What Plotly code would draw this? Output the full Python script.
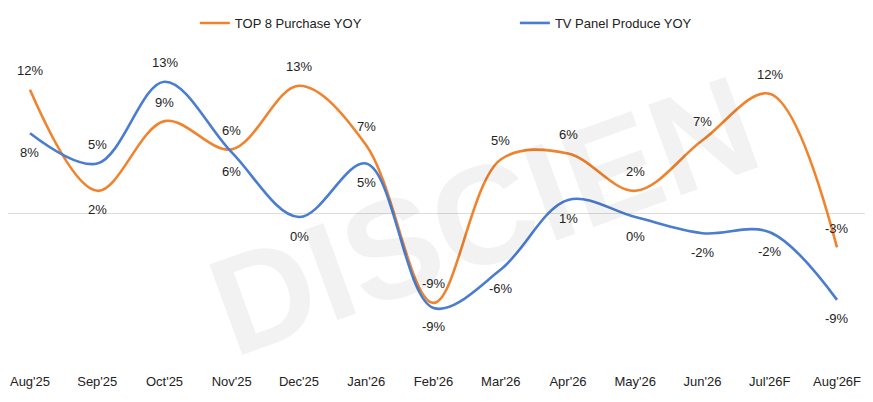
import plotly.graph_objects as go

months = ["Aug'25", "Sep'25", "Oct'25", "Nov'25", "Dec'25", "Jan'26", "Feb'26",
          "Mar'26", "Apr'26", "May'26", "Jun'26", "Jul'26F", "Aug'26F"]
purchase_yoy = [12.2, 2.2, 9.1, 6.3, 12.6, 6.7, -8.9, 5.3, 5.9, 2.2, 7.2, 11.8, -3.4]
panel_yoy = [7.9, 4.9, 13.0, 6.0, -0.4, 4.9, -9.4, -5.6, 1.3, -0.4, -2.0, -1.9, -8.6]

# label side per point: 1 = above, -1 = below
purchase_side = [1, -1, 1, 1, 1, 1, 1, 1, 1, 1, 1, 1, 1]
panel_side = [-1, 1, 1, -1, -1, -1, -1, -1, -1, -1, -1, -1, -1]

ORANGE = '#F0832D'
BLUE = '#4A7DCF'
FONT = 'Liberation Sans, Arial, sans-serif'

fig = go.Figure()
fig.add_trace(go.Scatter(
    x=months, y=purchase_yoy, name='TOP 8 Purchase YOY', mode='lines',
    line=dict(color=ORANGE, width=2.6, shape='spline', smoothing=1.0),
    legend='legend', showlegend=True,
))
fig.add_trace(go.Scatter(
    x=months, y=panel_yoy, name='TV Panel Produce YOY', mode='lines',
    line=dict(color=BLUE, width=2.6, shape='spline', smoothing=1.0),
    legend='legend2', showlegend=True,
))

annotations = []
for vals, sides in ((purchase_yoy, purchase_side), (panel_yoy, panel_side)):
    for m, v, s in zip(months, vals, sides):
        annotations.append(dict(
            x=m, y=v, text=f"{int(round(v)) or 0}%", showarrow=False,
            yshift=19 * s, font=dict(family=FONT, size=13, color='#222'),
        ))

# faint watermark
annotations.append(dict(
    x=0.55, y=0.47, xref='paper', yref='paper', text='<b>DISCIEN</b>',
    showarrow=False, textangle=-20,
    font=dict(family=FONT, size=140, color='rgba(0,0,0,0.05)'),
))

# page body has an 8px margin, so the figure is 8px smaller than the window
fig.update_layout(
    width=865, height=394,
    margin=dict(l=0, r=0, t=32, b=30),
    paper_bgcolor='white', plot_bgcolor='white',
    font=dict(family=FONT, size=13, color='#222'),
    annotations=annotations,
    showlegend=True,
    legend=dict(orientation='h', x=0.216, y=1, xref='container', yref='container',
                xanchor='left', yanchor='top', font=dict(size=13), itemwidth=30,
                bgcolor='rgba(0,0,0,0)'),
    legend2=dict(orientation='h', x=0.586, y=1, xref='container', yref='container',
                 xanchor='left', yanchor='top', font=dict(size=13), itemwidth=30,
                 bgcolor='rgba(0,0,0,0)'),
    xaxis=dict(type='category', range=[-0.327, 12.535], showgrid=False, showline=False,
               ticks='', tickfont=dict(size=13), automargin=False),
    yaxis=dict(range=[-15.74, 17.13], showgrid=False, showticklabels=False,
               zeroline=True, zerolinecolor='#DDDDDD', zerolinewidth=1.2,
               automargin=False),
)

fig.write_html("out.html")
